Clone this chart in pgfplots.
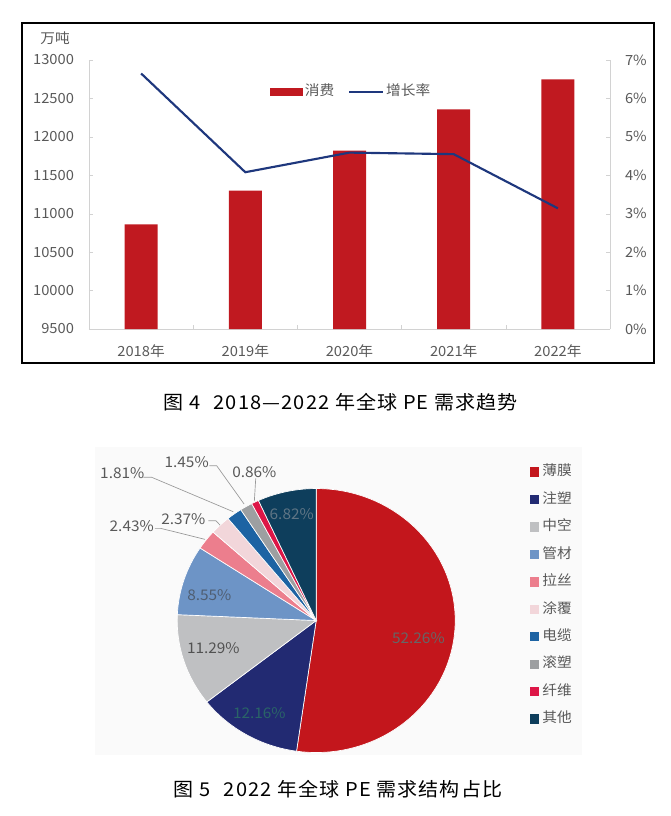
\documentclass[border=0pt]{standalone}
\usepackage{fontspec}
\setmainfont{Noto Sans CJK SC}[FakeStretch=1.05]
\newfontfamily\capfont{Noto Sans CJK SC}[FakeStretch=1.05, LetterSpace=6]
\usepackage{pgfplots}
\usepackage{pgfplotstable}
\pgfplotsset{compat=1.18}

\definecolor{barred}{RGB}{192,25,32}
\definecolor{linenavy}{RGB}{30,55,125}
\definecolor{spine}{RGB}{210,210,210}
\definecolor{txt}{RGB}{89,89,89}
% pie slices
\definecolor{pa}{RGB}{195,22,28}
\definecolor{pb}{RGB}{34,42,114}
\definecolor{pc}{RGB}{191,192,194}
\definecolor{pd}{RGB}{109,148,198}
\definecolor{pe}{RGB}{236,126,141}
\definecolor{pf}{RGB}{242,214,218}
\definecolor{pg}{RGB}{29,99,163}
\definecolor{ph}{RGB}{157,159,161}
\definecolor{pi}{RGB}{221,22,71}
\definecolor{pj}{RGB}{14,62,92}

\newcommand\fs[1]{\fontsize{#1}{#1}\selectfont}
\newcommand\pieimg[1]{\addlegendimage{legend image code/.code={\fill[#1] (0pt,-3.15pt) rectangle (6.3pt,3.15pt);}}}

\pgfplotsset{
  barleg/.style={legend image code/.code={\fill[barred] (0pt,-2.5pt) rectangle (24.3pt,2.5pt);}},
  lineleg/.style={legend image code/.code={\draw[##1] (0pt,0pt) -- (25pt,0pt);}},
}

% consumption (10^4 t) and growth rate (%)
\pgfplotstableread{
year cons growth
0 10862 6.65
1 11299 4.08
2 11820 4.59
3 12358 4.55
4 12749 3.14
}\demand

% 2022 demand structure (%)
\pgfplotstableread{
share color
52.26 pa
12.16 pb
11.29 pc
8.55 pd
2.43 pe
2.37 pf
1.81 pg
1.45 ph
0.86 pi
6.82 pj
}\structure

\begin{document}
\begin{tikzpicture}
\path[use as bounding box] (0,0) rectangle (502.5pt,-612pt);

% ---------- figure 4 ----------
\draw[line width=1.5pt] (16.3pt,-17pt) rectangle (490.7pt,-272.25pt);
\node[text=txt, font=\fs{10.5}] at (41.25pt,-28.5pt) {万吨};

\begin{axis}[
  at={(66.75pt,-246.75pt)}, anchor=south west,
  scale only axis, width=390.75pt, height=201.75pt,
  xmin=-0.5, xmax=4.5, ymin=9500, ymax=13000,
  axis x line*=bottom, axis y line*=left,
  axis line style={draw=spine, -},
  xtick={0,...,4},
  xticklabels={2018年,2019年,2020年,2021年,2022年},
  minor xtick={-0.5,0.5,...,4.5},
  ytick={9500,10000,...,13000},
  scaled y ticks=false,
  tick align=inside,
  major tick length=3pt, minor tick length=3pt,
  tick style={draw=spine},
  major x tick style={draw=none},
  tick label style={font=\fs{10.5}, text=txt},
  yticklabel style={xshift=-7.75pt, /pgf/number format/1000 sep={}},
  xticklabel style={yshift=-8.6pt},
  /pgf/number format/assume math mode=true,
]
\addplot[ybar, bar width=24.75pt, fill=barred, draw=none] table[x=year, y=cons]{\demand};
\end{axis}

\begin{axis}[
  at={(66.75pt,-246.75pt)}, anchor=south west,
  scale only axis, width=390.75pt, height=201.75pt,
  xmin=-0.5, xmax=4.5, ymin=0, ymax=7,
  axis x line=none, axis y line*=right,
  axis line style={draw=spine, -},
  ytick={0,...,7},
  yticklabels={0\%,1\%,2\%,3\%,4\%,5\%,6\%,7\%},
  tick align=inside, major tick length=3pt,
  tick style={draw=spine},
  tick label style={font=\fs{10.5}, text=txt},
  yticklabel style={xshift=7.75pt},
  legend columns=2,
  legend style={at={(0.346,0.8825)}, anchor=west, draw=none, fill=none,
    inner sep=0pt, font=\fs{10.5}, text=txt,
    nodes={inner sep=0pt, text height=7.5pt, text depth=1.5pt},
    /tikz/every odd column/.style={column sep=1.8pt},
    /tikz/every even column/.style={column sep=10.5pt}},
]
\addlegendimage{barleg}
\addlegendentry{消费}
\addplot[linenavy, line width=1.6pt, lineleg] table[x=year, y=growth]{\demand};
\addlegendentry{增长率}
\end{axis}

\node[font=\capfont\fs{14.3}] at (255.5pt,-302pt) {图 4\hspace{0.7em}2018—2022 年全球 PE 需求趋势};

% ---------- figure 5 ----------
\fill[black!2] (71.25pt,-335.25pt) rectangle (436.5pt,-566.25pt);

\begin{axis}[
  at={(132.9pt,-564.4pt)}, anchor=south west,
  scale only axis, width=208.5pt, height=198pt,
  xmin=-1, xmax=1, ymin=-1, ymax=1,
  hide axis, clip=false,
  legend cell align=left,
  legend style={at={(1.2665,1.090)}, anchor=north west, draw=none, fill=none,
    inner sep=0pt, font=\fs{10.5}, text=txt,
    nodes={inner sep=0pt, text height=8pt, text depth=2pt},
    row sep=10.6pt,
    /tikz/every odd column/.style={column sep=3pt}},
]
\pgfplotsextra{%
  \pgfplotstablegetrowsof{\structure}%
  \pgfmathtruncatemacro\nlast{\pgfplotsretval-1}%
  \xdef\angA{90}%
  \foreach \i in {0,...,\nlast}{%
    \pgfplotstablegetelem{\i}{share}\of\structure \let\slicev\pgfplotsretval
    \pgfplotstablegetelem{\i}{color}\of\structure \let\slicecol\pgfplotsretval
    \pgfmathsetmacro\angB{\angA-3.6*\slicev}%
    \filldraw[fill=\slicecol, draw=white, line width=0.5pt]
      (axis cs:0,0) -- (axis cs:{cos(\angA)},{sin(\angA)})
      arc[start angle=\angA, end angle=\angB, x radius=104.25pt, y radius=99pt] -- cycle;
    \xdef\angA{\angB}%
  }%
}
\pieimg{pa}\pieimg{pb}\pieimg{pc}\pieimg{pd}\pieimg{pe}
\pieimg{pf}\pieimg{pg}\pieimg{ph}\pieimg{pi}\pieimg{pj}
\legend{薄膜,注塑,中空,管材,拉丝,涂覆,电缆,滚塑,纤维,其他}

% data labels
\begin{scope}[font=\fs{11}]
\node[text=black!60] at (axis cs:0.735,-0.135) {52.26\%};
\node[text={rgb,255:red,42;green,100;blue,103}] at (axis cs:-0.409,-0.703) {12.16\%};
\node[text=black!68] at (axis cs:-0.740,-0.211) {11.29\%};
\node[text={rgb,255:red,79;green,94;blue,114}] at (axis cs:-0.769,0.193) {8.55\%};
\node[text={rgb,255:red,95;green,117;blue,133}] at (axis cs:-0.176,0.807) {6.82\%};
\node[text=txt] at (axis cs:-0.932,1.198) {1.45\%};
\node[text=txt] at (axis cs:-1.395,1.120) {1.81\%};
\node[text=txt] at (axis cs:-0.445,1.123) {0.86\%};
\node[text=txt] at (axis cs:-0.956,0.769) {2.37\%};
\node[text=txt] at (axis cs:-1.327,0.716) {2.43\%};
\end{scope}
% leader lines
\begin{scope}[draw=black!40, line width=0.5pt]
\draw (axis cs:-1.244,1.085) -- (axis cs:-1.183,1.085) -- (axis cs:-0.596,0.824);
\draw (axis cs:-0.769,1.173) -- (axis cs:-0.716,1.173) -- (axis cs:-0.519,0.883);
\draw (axis cs:-0.435,1.077) -- (axis cs:-0.445,0.905);
\draw (axis cs:-0.776,0.756) -- (axis cs:-0.721,0.756) -- (axis cs:-0.692,0.723);
\draw (axis cs:-1.160,0.698) -- (axis cs:-1.117,0.698) -- (axis cs:-0.800,0.615);
\end{scope}
\end{axis}

\node[font=\capfont\fs{14.3}] at (253.5pt,-591.5pt) {图 5\hspace{0.7em}2022 年全球 PE 需求结构占比};
\end{tikzpicture}
\end{document}
